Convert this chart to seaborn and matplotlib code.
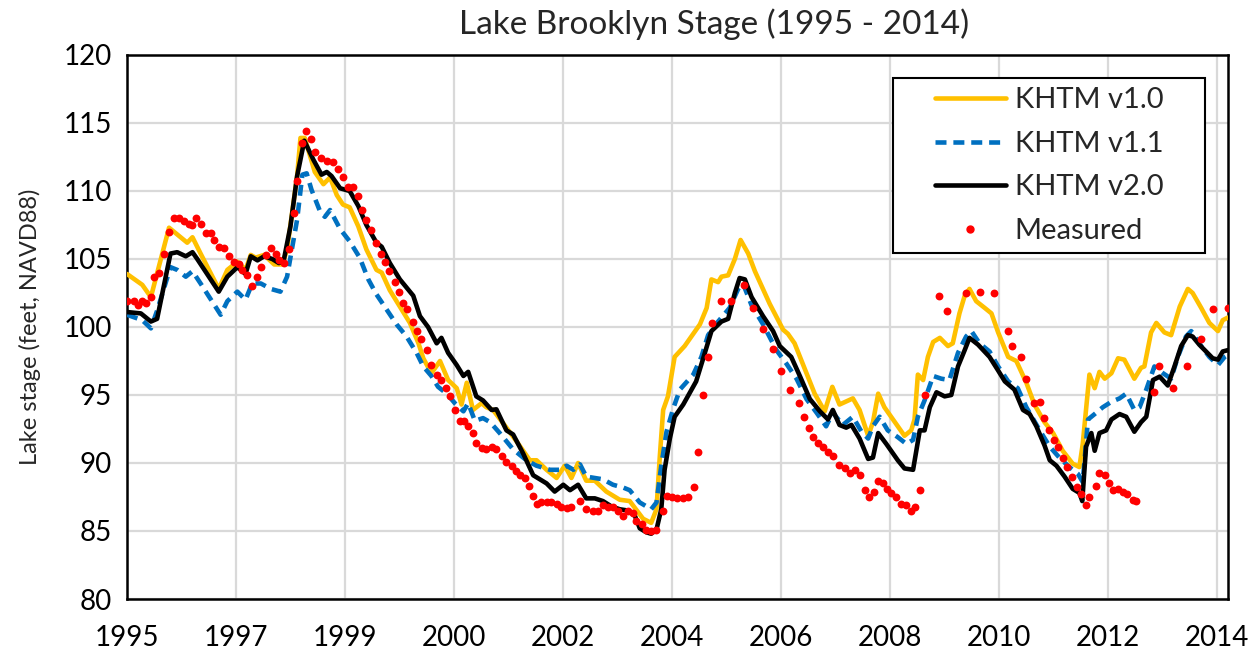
import numpy as np
import matplotlib
matplotlib.use("Agg")
import matplotlib.pyplot as plt
import seaborn as sns
from matplotlib.lines import Line2D
from matplotlib.patches import Rectangle

# Lake Brooklyn stage, months counted from Jan 1995, feet NAVD88

# KHTM v1.0
v10_month = [0.0, 3.2, 5.0, 8.8, 12.6, 13.7, 15.4, 19.2, 21.0, 23.1, 24.8, 25.9, 26.9, 28.7, 30.8, 32.5,
             33.5, 35.6, 36.3, 37.2, 39.3, 41.1, 42.5, 43.9, 45.2, 46.6, 48.4, 50.1, 52.2, 53.3, 55.0, 57.1,
             59.2, 61.0, 62.0, 63.7, 65.5, 67.2, 69.0, 70.0, 71.1, 72.4, 74.2, 75.2, 76.6, 79.4, 81.5, 84.3,
             85.7, 87.8, 89.9, 91.6, 93.0, 94.4, 96.1, 97.9, 100.3, 103.1, 105.2, 108.0, 109.7, 110.8, 111.5,
             112.2, 113.2, 114.6, 116.7, 119.9, 121.3, 122.3, 123.7, 124.4, 125.8, 127.2, 128.4, 130.0, 131.4,
             134.5, 137.3, 138.3, 139.7, 142.2, 143.9, 146.0, 147.6, 149.1, 151.9, 153.3, 155.1, 156.1, 157.2,
             158.5, 160.3, 162.7, 164.1, 164.8, 165.5, 166.6, 167.6, 168.7, 170.1, 171.8, 172.8, 174.2, 175.3,
             176.3, 177.7, 179.5, 180.9, 182.3, 184.4, 186.1, 188.2, 189.9, 192.0, 193.8, 195.8, 197.9, 199.3,
             200.0, 201.4, 202.5, 203.5, 204.6, 206.0, 207.4, 208.7, 210.8, 212.2, 212.9, 214.3, 215.4, 217.1,
             218.5, 220.3, 222.0, 223.0, 224.8, 226.5, 228.3, 229.3, 230.4]
v10_ft = [103.9, 103.1, 102.2, 107.3, 106.2, 106.6, 105.4, 102.8, 104.2, 104.8, 104.2, 105.3, 105.1, 105.3, 104.6, 104.6,
          105.7, 111.1, 113.9, 113.9, 111.4, 110.5, 111.0, 109.7, 109.0, 108.8, 107.4, 105.7, 104.2, 104.0, 102.7, 101.5,
          100.3, 98.8, 97.7, 96.6, 97.5, 96.1, 95.5, 94.3, 95.9, 93.9, 94.4, 94.1, 93.9, 92.6, 91.6, 90.2,
          90.2, 89.5, 88.9, 89.8, 88.9, 90.0, 88.7, 88.7, 87.9, 87.3, 87.2, 85.9, 85.6, 86.6, 90.5,
          93.9, 94.9, 97.8, 98.6, 100.2, 101.4, 103.5, 103.3, 103.7, 103.8, 105.0, 106.4, 105.4, 104.1,
          101.7, 99.8, 99.5, 98.8, 96.6, 95.1, 93.8, 95.6, 94.3, 94.75, 93.9, 92.0, 93.0, 95.1,
          94.1, 93.2, 92.0, 92.4, 93.2, 96.5, 96.1, 97.8, 98.9, 99.2, 98.6, 98.8, 101.0, 102.3,
          102.8, 101.9, 101.4, 101.0, 99.6, 97.8, 97.5, 95.9, 94.3, 93.0, 92.2, 90.9, 89.95, 89.7,
          91.4, 96.5, 95.5, 96.7, 96.2, 96.6, 97.7, 97.6, 96.2, 97.0, 97.1, 99.6, 100.3, 99.6,
          99.4, 101.5, 102.8, 102.5, 101.4, 100.3, 99.7, 100.5, 100.7]

# KHTM v1.1
v11_month = [0.0, 3.2, 5.0, 6.3, 9.1, 10.5, 12.3, 13.7, 15.4, 19.6, 21.0, 23.1, 24.8, 26.2, 28.0, 30.1,
             32.1, 33.5, 35.6, 36.7, 37.6, 38.6, 40.4, 41.4, 42.5, 44.6, 46.6, 48.7, 50.5, 52.2, 54.3, 56.4,
             58.5, 60.6, 62.0, 63.7, 65.1, 66.9, 68.6, 70.4, 71.4, 72.8, 74.5, 76.0, 78.0, 80.8, 83.6, 85.7,
             88.5, 90.6, 92.0, 93.4, 94.8, 96.1, 97.9, 99.6, 101.7, 103.8, 105.2, 107.3, 109.7, 110.8, 111.8,
             112.9, 114.3, 115.7, 118.5, 120.2, 121.6, 123.7, 126.1, 127.9, 128.9, 130.7, 133.1, 135.9, 138.0,
             140.1, 142.2, 144.3, 146.3, 147.7, 149.8, 151.9, 153.7, 155.1, 156.1, 157.5, 159.2, 161.3, 163.1,
             164.5, 165.5, 166.9, 168.7, 170.4, 172.1, 173.9, 175.6, 176.7, 178.4, 180.5, 182.3, 184.4, 186.4,
             188.2, 191.0, 193.1, 195.1, 197.2, 199.0, 200.0, 201.1, 202.5, 204.2, 206.0, 207.7, 209.1, 210.8,
             211.9, 213.3, 215.0, 216.8, 218.5, 219.9, 221.6, 222.7, 224.8, 226.5, 228.3, 229.7, 230.4]
v11_ft = [100.9, 100.5, 99.9, 101.2, 104.4, 104.2, 103.7, 104.1, 103.2, 100.9, 101.9, 102.6, 102.0, 103.2, 103.2, 102.8,
          102.6, 103.7, 107.9, 111.2, 111.3, 110.1, 108.5, 108.1, 108.6, 107.2, 106.3, 105.1, 103.5, 102.4, 101.3, 100.2,
          99.3, 98.1, 97.1, 96.4, 95.6, 95.1, 94.4, 93.8, 94.4, 93.1, 93.3, 93.0, 92.2, 91.0, 90.2, 89.8,
          89.5, 89.5, 89.8, 89.5, 89.9, 89.0, 88.9, 88.8, 88.4, 88.2, 88.0, 87.1, 86.6, 87.1, 89.8,
          92.3, 94.0, 95.4, 96.5, 97.8, 99.4, 100.4, 101.4, 102.8, 103.2, 101.6, 100.2, 98.3, 97.3,
          96.2, 94.7, 93.7, 92.7, 93.7, 92.8, 93.4, 92.3, 91.8, 92.7, 93.4, 92.4, 91.9, 91.4,
          91.7, 93.4, 94.6, 96.4, 96.2, 96.1, 98.1, 99.3, 99.7, 98.8, 98.2, 97.1, 96.0, 95.5,
          94.1, 92.4, 91.2, 90.4, 89.7, 89.2, 88.6, 93.2, 93.6, 94.1, 94.5, 94.75, 95.1, 93.9,
          94.1, 95.4, 97.1, 96.6, 96.2, 97.8, 99.3, 99.7, 98.6, 97.8, 97.2, 97.8, 97.95]

# KHTM v2.0
v20_month = [0.0, 2.9, 5.0, 6.3, 9.1, 10.5, 12.3, 13.7, 14.7, 19.2, 21.0, 23.1, 24.8, 25.9, 27.3, 28.7,
             30.4, 31.8, 32.8, 34.2, 35.6, 37.1, 39.0, 40.7, 41.8, 42.8, 44.6, 46.6, 48.4, 50.1, 52.2, 53.3,
             55.0, 57.1, 59.9, 61.3, 63.0, 64.8, 65.8, 67.2, 69.0, 70.4, 71.4, 73.1, 74.5, 76.3, 77.3, 79.4,
             80.8, 82.9, 85.0, 86.4, 87.8, 89.5, 91.3, 92.7, 94.4, 96.1, 97.9, 99.6, 101.4, 103.1, 104.9,
             106.3, 107.3, 108.7, 109.7, 110.8, 111.8, 112.5, 113.6, 114.6, 116.4, 119.1, 120.5, 122.3, 124.4,
             125.8, 127.2, 128.2, 129.3, 130.7, 133.1, 135.2, 136.6, 139.0, 140.8, 142.9, 145.0, 146.7, 147.7,
             149.1, 150.5, 151.6, 153.3, 155.1, 156.1, 157.2, 158.9, 161.3, 162.7, 164.5, 165.9, 166.9, 168.0,
             169.4, 171.1, 172.5, 173.9, 175.3, 176.3, 178.1, 180.5, 182.3, 183.7, 185.7, 187.5, 188.9, 190.3,
             192.0, 193.1, 194.5, 196.2, 197.9, 199.3, 199.9, 200.7, 201.8, 202.5, 203.5, 204.9, 206.0, 207.7,
             209.1, 210.8, 212.2, 213.3, 214.7, 216.1, 217.8, 219.2, 220.6, 222.0, 223.0, 224.4, 225.8, 227.2,
             228.3, 229.3, 230.4]
v20_ft = [101.1, 101.0, 100.4, 100.6, 105.4, 105.5, 105.2, 105.5, 105.0, 102.6, 103.7, 104.4, 103.9, 105.2, 104.9, 105.2,
          105.0, 104.7, 104.9, 107.4, 111.1, 113.7, 112.3, 111.2, 111.4, 111.1, 110.2, 110.0, 108.9, 107.5, 106.2, 105.9,
          104.7, 103.5, 102.3, 100.8, 100.0, 98.8, 99.2, 98.1, 97.2, 96.4, 96.7, 94.9, 94.6, 93.9, 93.95, 92.4,
          92.1, 90.7, 89.1, 88.8, 88.5, 87.9, 88.4, 88.0, 88.4, 87.4, 87.4, 87.2, 86.8, 86.6, 86.5,
          86.1, 85.2, 84.9, 84.8, 85.1, 86.6, 89.5, 91.8, 93.4, 94.3, 96.0, 97.6, 99.7, 100.4,
          100.6, 102.5, 103.6, 103.5, 102.2, 100.8, 99.7, 98.6, 97.8, 96.4, 94.7, 93.8, 93.2, 93.9,
          92.8, 92.6, 92.8, 91.8, 90.3, 90.4, 92.2, 91.4, 90.2, 89.6, 89.5, 92.4, 92.4, 94.1,
          95.2, 94.9, 95.0, 97.1, 98.3, 99.2, 98.7, 97.8, 96.8, 96.0, 95.4, 93.9, 93.6, 92.7,
          91.3, 90.2, 89.8, 89.0, 88.1, 87.8, 87.2, 91.2, 92.2, 90.9, 92.2, 92.4, 93.2, 93.6,
          93.4, 92.3, 93.0, 93.4, 96.1, 96.35, 95.7, 97.1, 98.6, 99.4, 99.3, 98.7, 98.2, 97.7,
          97.6, 98.2, 98.3]

# Measured
meas_month = [0.1, 1.5, 2.2, 3.2, 3.9, 5.0, 5.7, 6.7, 7.7, 8.8, 9.8, 10.9, 11.9, 13.0, 13.7, 14.4,
              15.4, 16.5, 17.5, 18.2, 19.2, 20.3, 21.3, 22.4, 23.4, 24.1, 25.2, 26.2, 27.3, 28.0, 29.0, 30.1,
              31.1, 31.8, 32.8, 33.9, 34.9, 35.6, 36.6, 37.5, 38.6, 39.3, 40.5, 41.8, 43.2, 44.2, 45.2, 46.3,
              47.2, 48.4, 49.1, 50.1, 51.1, 52.1, 53.1, 54.0, 54.9, 56.1, 57.0, 57.8, 58.6, 59.8, 60.7, 61.6,
              62.7, 63.7, 64.8, 65.8, 66.7, 67.6, 68.6, 69.7, 70.5, 71.4, 72.4, 73.1, 74.2, 75.2, 76.3, 77.3,
              78.4, 79.4, 80.5, 81.4, 82.2, 83.2, 84.1, 85.0, 85.8, 86.7, 87.8, 88.8, 89.9, 90.9, 92.0, 93.0,
              94.8, 96.1, 97.5, 98.6, 99.6, 100.7, 101.7, 102.8, 103.8, 104.9, 105.9, 106.6, 107.7, 108.7,
              109.7, 110.8, 112.2, 112.9, 114.0, 115.0, 116.3, 117.5, 118.6, 119.5, 120.5, 121.5, 122.4,
              124.2, 126.3, 129.2, 131.1, 133.1, 135.1, 136.9, 138.8, 140.6, 141.6, 142.7, 143.5, 144.6,
              145.6, 146.7, 147.7, 149.1, 150.2, 151.2, 152.3, 153.3, 154.4, 155.2, 156.3, 157.2, 158.2,
              159.1, 159.9, 161.0, 162.0, 163.1, 164.1, 164.8, 165.9, 166.9, 169.9, 171.7, 175.6, 178.4,
              181.4, 184.4, 185.2, 187.1, 188.2, 189.9, 191.0, 191.8, 192.9, 194.0, 194.8, 195.8, 196.8,
              197.7, 198.8, 199.7, 200.7, 201.4, 202.7, 203.5, 204.6, 205.5, 206.3, 207.4, 208.4, 209.2,
              210.5, 211.2, 215.0, 215.9, 218.9, 221.9, 224.8, 227.2, 230.4]
meas_ft = [101.9, 101.9, 101.6, 101.9, 101.8, 102.2, 103.7, 104.0, 105.4, 107.0, 108.0, 108.0, 107.8, 107.6, 107.5, 108.0,
           107.6, 106.9, 106.9, 106.4, 105.9, 105.8, 105.2, 104.8, 104.6, 104.2, 103.8, 103.0, 103.7, 104.4, 105.3, 105.8,
           105.4, 104.9, 104.7, 105.7, 108.4, 110.7, 113.5, 114.4, 113.8, 112.9, 112.4, 112.2, 112.1, 111.6, 111.0, 110.3,
           110.3, 109.6, 108.6, 107.9, 107.1, 106.2, 105.4, 104.8, 104.1, 103.3, 102.6, 101.8, 101.3, 100.4, 99.7, 99.1,
           98.3, 97.2, 96.5, 96.1, 95.5, 94.9, 93.9, 93.1, 93.1, 92.7, 92.2, 91.5, 91.1, 91.0, 91.2, 91.0,
           90.5, 90.1, 89.8, 89.4, 89.1, 88.9, 88.3, 87.6, 87.0, 87.1, 87.1, 87.1, 87.0, 86.8, 86.7, 86.8,
           87.2, 86.6, 86.5, 86.5, 86.9, 86.8, 86.8, 86.5, 86.1, 86.5, 86.3, 85.7, 85.5, 85.1,
           85.0, 85.1, 86.5, 87.6, 87.5, 87.4, 87.4, 87.5, 88.2, 90.8, 95.0, 97.8, 100.3,
           101.9, 101.9, 103.1, 101.4, 99.85, 98.4, 96.8, 95.4, 94.4, 93.4, 92.55, 91.9, 91.5,
           91.2, 90.8, 90.5, 89.85, 89.6, 89.3, 89.5, 89.1, 88.0, 87.5, 87.9, 88.7, 88.5,
           88.1, 87.8, 87.5, 87.0, 86.9, 86.5, 86.8, 88.0, 95.0, 102.3, 101.2, 102.5, 102.6,
           102.5, 99.7, 98.6, 97.8, 96.2, 94.4, 94.5, 93.3, 92.4, 91.7, 91.2, 90.4, 89.7,
           89.0, 88.2, 87.7, 86.9, 87.5, 88.3, 89.3, 89.1, 88.5, 88.0, 88.1, 87.9, 87.7,
           87.3, 87.2, 95.2, 97.1, 95.5, 97.1, 99.1, 101.3, 101.4]

tick_labels = ["1995", "1997", "1999", "2000", "2002", "2004", "2006", "2008", "2010", "2012", "2014"]


def to_year(months):
    return 1995 + np.asarray(months) / 12.0


sns.set_style("white")
plt.rcParams["font.family"] = ["Lato", "DejaVu Sans"]

W, H = 1259, 654
fig = plt.figure(figsize=(W / 100, H / 100), dpi=100)
ax = fig.add_axes([127 / W, 1 - 599 / H, (1228 - 127) / W, (599 - 55) / H])

yellow, blue, red = "#FFC000", "#0070C0", "#FF0000"
lw = 3.3
dash = (0, (2.4, 1.5))

sns.lineplot(x=to_year(v10_month), y=v10_ft, color=yellow, lw=lw, ax=ax, zorder=3)
sns.lineplot(x=to_year(v11_month), y=v11_ft, color=blue, lw=lw, ax=ax, zorder=3, linestyle=dash)
sns.lineplot(x=to_year(v20_month), y=v20_ft, color="black", lw=lw, ax=ax, zorder=3)
sns.scatterplot(x=to_year(meas_month), y=meas_ft, color=red, s=32, linewidth=0, ax=ax, zorder=4)

ax.set_xlim(1995, 2014.2)
ax.set_ylim(80, 120)
ax.set_xticks(1995 + 1.9 * np.arange(len(tick_labels)))
ax.set_xticklabels(tick_labels)
ax.set_yticks(np.arange(80, 121, 5))
ax.tick_params(axis="both", length=0, labelsize=20, colors="black")
ax.tick_params(axis="x", pad=19)
ax.tick_params(axis="y", pad=11)
ax.grid(True, color="#d9d9d9", lw=1.6)
ax.set_axisbelow(True)
for s in ax.spines.values():
    s.set_color("black")
    s.set_linewidth(1.8)

ax.set_ylabel("Lake stage (feet, NAVD88)", fontsize=17)
ax.yaxis.set_label_coords(-0.078, 0.5)
fig.text(714 / W, 1 - 24 / H, "Lake Brooklyn Stage (1995 - 2014)", ha="center", va="center", fontsize=24)

# legend box
ax.add_patch(Rectangle((0.6957, 0.636), 0.2834, 0.322, transform=ax.transAxes,
                       facecolor="white", edgecolor="black", lw=1.5, zorder=5))
handles = [
    Line2D([], [], color=yellow, lw=lw),
    Line2D([], [], color=blue, lw=lw, linestyle=dash),
    Line2D([], [], color="black", lw=lw),
    Line2D([], [], color=red, marker="o", ms=5, lw=0),
]
leg = ax.legend(handles, ["KHTM v1.0", "KHTM v1.1", "KHTM v2.0", "Measured"],
                loc="center", bbox_to_anchor=(0.8374, 0.7969), frameon=False,
                fontsize=21, handlelength=2.45, handletextpad=0.3, labelspacing=0.6)
leg.set_zorder(6)

fig.savefig("out.png", dpi=100)
